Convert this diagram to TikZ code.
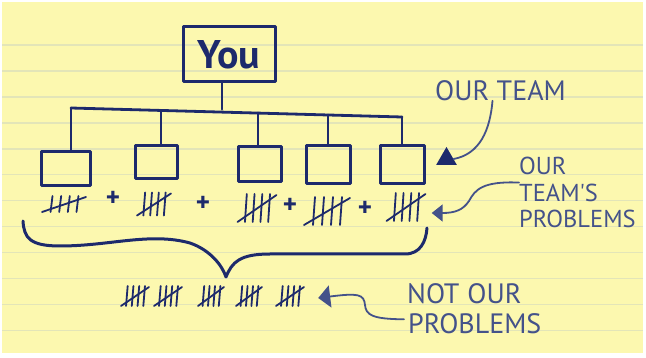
\documentclass[tikz,border=0pt]{standalone}
\usepackage{fontspec}
\newfontfamily\handfont{PT Sans}
\usetikzlibrary{arrows.meta,shapes.geometric,calc}
\definecolor{paper}{HTML}{FCF8AF}
\definecolor{rulecol}{HTML}{E3E5B8}
\definecolor{ink}{HTML}{1D2A6C}
\definecolor{pen}{HTML}{44528A}
\begin{document}
\begin{tikzpicture}[x=1pt,y=-1pt,
  member/.style={draw=ink, line width=3pt, inner sep=0pt, line join=round},
  wire/.style={draw=ink, line width=2.8pt, line cap=round, line join=round},
  pencurve/.style={draw=pen, line width=1.8pt, line cap=round},
  label/.style={text=pen, font=\handfont\fontsize{28}{25}\selectfont, inner sep=0pt, align=left},
  smalllabel/.style={label, font=\handfont\fontsize{24.5}{26.5}\selectfont},
  plus/.style={text=ink, font=\handfont\bfseries\fontsize{27}{27}\selectfont, inner sep=0pt},
  tally/.style args={#1x#2}{inner sep=0pt, minimum width=#1pt, minimum height=#2pt,
    path picture={
      \path (path picture bounding box.north west) coordinate (nw)
            (path picture bounding box.south east) coordinate (se);
      \foreach \f in {0.24,0.42,0.60,0.78}
        \draw[ink, line width=1.8pt, line cap=round]
          ($(nw)!\f!(nw-|se)+(1,2)$) -- ($(nw|-se)!\f-0.02!(se)+(0,-2)$);
      \draw[ink, line width=1.8pt, line cap=round]
          ($(nw|-se)+(2,-2)$) -- ($(nw-|se)+(-2,3)$);
    }}]
  % paper
  \useasboundingbox (0,0) rectangle (646,358);
  \fill[white] (0,0) rectangle (646,358);
  \fill[paper] (2,2) rectangle (643,353);
  \foreach \k in {0,...,11}
    \draw[rulecol, line width=1.5pt] (2,{45+25.95*\k}) -- (643,{45+25.95*\k});

  % boss
  \node[member, minimum width=92pt, minimum height=55pt, text=ink,
        font=\handfont\bfseries\fontsize{40}{40}\selectfont] (you) at (229,54.5) {You};

  % team members
  \node[member, minimum width=49pt, minimum height=34pt] (m1) at (65.5,169) {};
  \node[member, minimum width=42pt, minimum height=33pt] (m2) at (156,162.5) {};
  \node[member, minimum width=43pt, minimum height=35pt] (m3) at (259.5,164.5) {};
  \node[member, minimum width=44pt, minimum height=38pt] (m4) at (328,165) {};
  \node[member, minimum width=44pt, minimum height=38pt] (m5) at (402,165) {};

  % tree connectors
  \coordinate (bar1) at (71,108);
  \coordinate (bar2) at (161,110.4);
  \coordinate (bar3) at (258,113);
  \coordinate (bar4) at (328,115);
  \coordinate (bar5) at (402,117);
  \coordinate (barmid) at (222,109.3);
  \draw[wire] (bar1) -- (bar5);
  \draw[wire] (you.south -| barmid) -- (barmid);
  \draw[wire] (bar1) -- (bar1 |- m1.north);
  \draw[wire] (bar2) -- (bar2 |- m2.north);
  \draw[wire] (bar3) -- (bar3 |- m3.north);
  \draw[wire] (bar4) -- (bar4 |- m4.north);
  \draw[wire] (bar5) -- (bar5 |- m5.north);

  % team problems
  \node[tally=48x20] (t1) at (64,204) {};
  \node[plus] (p1) at (113,199) {+};
  \node[tally=38x27] (t2) at (154,204) {};
  \node[plus] (p2) at (203,204) {+};
  \node[tally=43x32] (t3) at (257,208) {};
  \node[plus] (p3) at (290,206) {+};
  \node[tally=50x32] (t4) at (327,211) {};
  \node[plus] (p4) at (365,209) {+};
  \node[tally=43x32] (t5) at (406,207) {};

  % brace
  \draw[wire, line width=3pt]
    (23,221) .. controls (24,238) and (30,246) .. (60,246)
    .. controls (110,246) and (150,232) .. (190,243)
    .. controls (210,250) and (222,265) .. (226,277)
    .. controls (232,262) and (240,254) .. (270,254)
    -- (405,254) .. controls (420,254) and (426,242) .. (427,228);

  % not our problems
  \node[tally=32x24] (b1) at (135,296) {};
  \node[tally=32x24] (b2) at (168,296) {};
  \node[tally=30x24] (b3) at (211,296) {};
  \node[tally=30x24] (b4) at (249,296) {};
  \node[tally=32x24] (b5) at (290,296) {};

  % labels
  \node[label, anchor=west] (ourteam) at (435,90.5) {OUR TEAM};
  \node[smalllabel, anchor=north west] (otp) at (519,157) {OUR\\TEAM'S\\PROBLEMS};
  \node[label, anchor=north west] (nop1) at (407,283) {NOT\hspace{8pt}OUR};
  \node[label, anchor=north west] (nop2) at (408,313) {PROBLEMS};

  % arrows
  \node[regular polygon, regular polygon sides=3, minimum size=24pt, fill=ink, inner sep=0pt] (tri) at (446.5,159) {};
  \draw[pencurve] ([xshift=-8pt]ourteam.south) .. controls (490,130) and (480,154) .. (tri.east);
  \draw[pencurve, -{Triangle[length=11pt,width=17pt]}]
    ([yshift=10pt]otp.west) .. controls (482,181) and (475,190) .. (469,201)
    .. controls (463,210) and (455,213) .. ($(t5.east)+(4,6)$);
  \draw[pencurve, -{Triangle[length=12pt,width=22pt]}]
    ([xshift=-4pt,yshift=4pt]nop2.west) .. controls (372,319) and (366,315) .. (365,305)
    .. controls (364,294) and (358,293) .. ($(b5.east)+(12,2)$);
\end{tikzpicture}
\end{document}
